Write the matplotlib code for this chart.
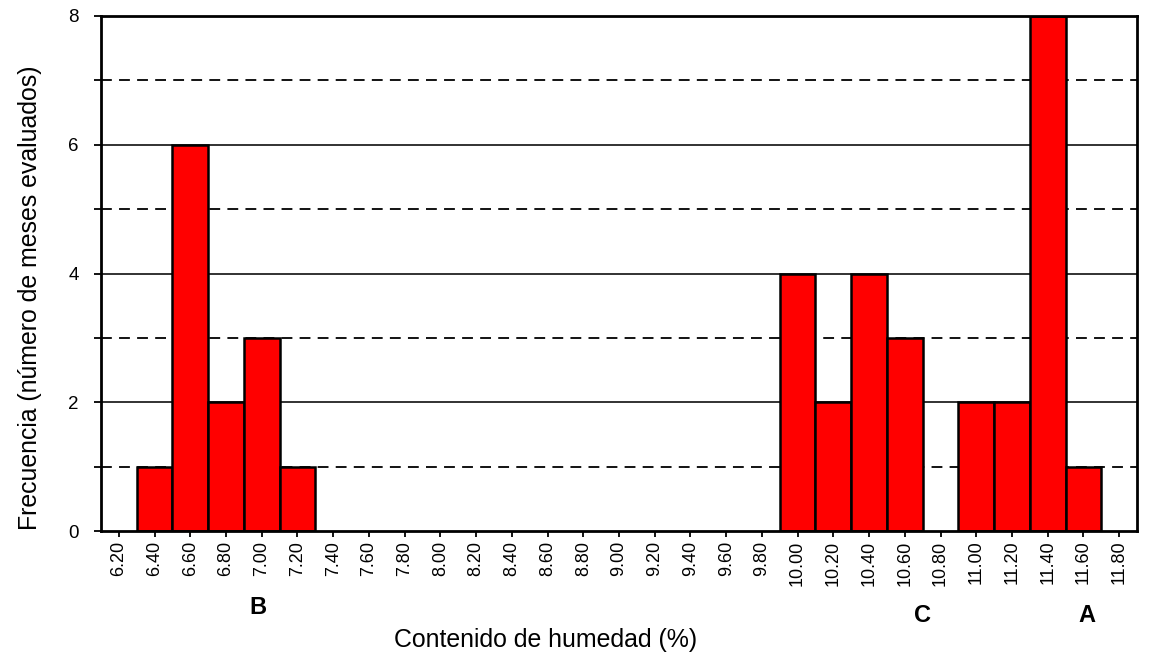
import matplotlib
matplotlib.use("Agg")
import matplotlib.pyplot as plt
from matplotlib.transforms import blended_transform_factory
import numpy as np

plt.rcParams['font.family'] = ['Liberation Sans', 'DejaVu Sans']

categories = ["6.20", "6.40", "6.60", "6.80", "7.00", "7.20", "7.40", "7.60", "7.80",
              "8.00", "8.20", "8.40", "8.60", "8.80", "9.00", "9.20", "9.40", "9.60",
              "9.80", "10.00", "10.20", "10.40", "10.60", "10.80", "11.00", "11.20",
              "11.40", "11.60", "11.80"]
frecuencia = [0, 1, 6, 2, 3, 1, 0, 0, 0,
              0, 0, 0, 0, 0, 0, 0, 0, 0,
              0, 4, 2, 4, 3, 0, 2, 2,
              8, 1, 0]
group_labels = ["B", "C", "A"]
group_pos = [3.9, 22.5, 27.1]
group_y_px = [608, 616, 616]

W, H = 1153, 668
fig = plt.figure(figsize=(W / 100, H / 100), dpi=100)
ax = fig.add_axes([101 / W, 1 - 531 / H, (1137 - 101) / W, (531 - 16) / H])

x = np.arange(len(categories))
heights = np.array(frecuencia)
mask = heights > 0
ax.bar(x[mask], heights[mask], width=1.0, color='#FF0000', edgecolor='black',
       linewidth=1.8, zorder=3)

ax.set_xlim(-0.5, len(categories) - 0.5)
ax.set_ylim(0, 8)

# gridlines
for yv in [2, 4, 6]:
    ax.axhline(yv, color='#222222', linewidth=1.3, zorder=1)
for yv in [1, 3, 5, 7]:
    ax.axhline(yv, color='black', linewidth=1.3, linestyle=(0, (6, 4)), zorder=1)

ax.set_xticks(x)
ax.set_xticklabels(categories, rotation=90, fontsize=13)
ax.set_yticks([0, 2, 4, 6, 8])
ax.set_yticklabels(["0", "2", "4", "6", "8"], fontsize=13.5)
ax.set_yticks([1, 3, 5, 7], minor=True)
ax.tick_params(axis='x', direction='out', length=4, width=1.3, pad=3)
ax.tick_params(axis='y', which='both', direction='out', length=5, width=1.3, pad=11)

for sp in ax.spines.values():
    sp.set_linewidth(2)
    sp.set_color('black')
    sp.set_zorder(4)

fig.text(546 / W, 1 - 640 / H, "Contenido de humedad (%)", ha='center', va='center',
         fontsize=17.9)
fig.text(30 / W, 1 - 298 / H, "Frecuencia (número de meses evaluados)", ha='center',
         va='center', rotation=90, fontsize=17.9)

trans = blended_transform_factory(ax.transData, fig.transFigure)
for lab, xp, yp in zip(group_labels, group_pos, group_y_px):
    ax.text(xp, 1 - yp / H, lab, transform=trans, ha='center', va='center',
            fontsize=17, fontweight='bold', clip_on=False)

fig.savefig("out.png", dpi=100)
